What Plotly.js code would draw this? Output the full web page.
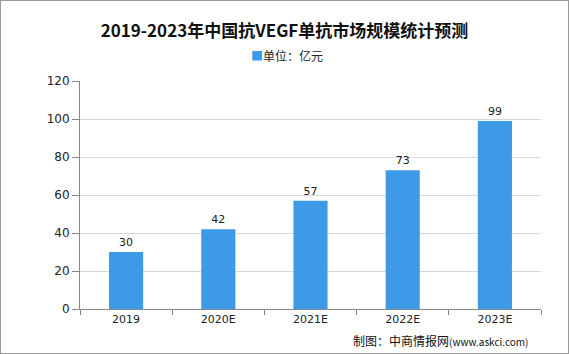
<!DOCTYPE html>
<html><head><meta charset="utf-8">
<script src="https://cdn.plot.ly/plotly-3.0.1.min.js"></script>
<style>html,body{margin:0;padding:0;background:#fff;}#c{width:569px;height:354px;box-sizing:border-box;border:1px solid #9a9a9a;}</style>
</head><body><div id="c"></div>
<script>
const categories = ["2019","2020E","2021E","2022E","2023E"];
const values = [30,42,57,73,99];
const seriesName = "单位：亿元";
const titleText = "2019-2023年中国抗VEGF单抗市场规模统计预测";
const sourceText = "制图：中商情报网<span style='font-size:10px'>(www.askci.com)</span>";
const barColor = "#3c9ae8";

const trace = {
  type:"bar", x:categories, y:values, name:seriesName,
  marker:{color:barColor}, showlegend:false,
  text:values.map(String), textposition:"outside", cliponaxis:false,
  textfont:{family:"DejaVu Sans", size:11, color:"#222"},
  width:0.37
};
const layout = {
  width:567, height:352,
  margin:{l:79, r:27, t:80, b:44},
  paper_bgcolor:"#fff", plot_bgcolor:"#fff",
  title:{text:titleText, x:0.5, xanchor:"center", y:0.915, yanchor:"middle",
    font:{family:"Noto Sans CJK SC", size:17, color:"#111", weight:"bold"}},
  xaxis:{type:"category", showline:true, linecolor:"#888", linewidth:1,
    ticks:"outside", ticklen:5, tickcolor:"#888", tickson:"boundaries",
    showgrid:false, tickfont:{family:"DejaVu Sans", size:11, color:"#222"}},
  yaxis:{range:[0,120], dtick:20, showline:true, linecolor:"#888", linewidth:1,
    ticks:"outside", ticklen:7, tickcolor:"#888",
    gridcolor:"#d9d9d9", zeroline:false,
    tickfont:{family:"DejaVu Sans", size:12, color:"#222"}},
  annotations:[
    {text:"<span style='color:"+barColor+"'>■</span>"+seriesName, xref:"paper", yref:"paper",
     x:0.448, xanchor:"center", y:1.114, yanchor:"middle", showarrow:false,
     font:{family:"Noto Sans CJK SC", size:12, color:"#222"}},
    {text:sourceText, xref:"paper", yref:"paper", x:0.976, xanchor:"right",
    y:-0.14, yanchor:"middle", showarrow:false,
    font:{family:"Noto Sans CJK SC", size:12, color:"#111"}}]
};
Plotly.newPlot("c",[trace],layout,{displayModeBar:false});
</script></body></html>
